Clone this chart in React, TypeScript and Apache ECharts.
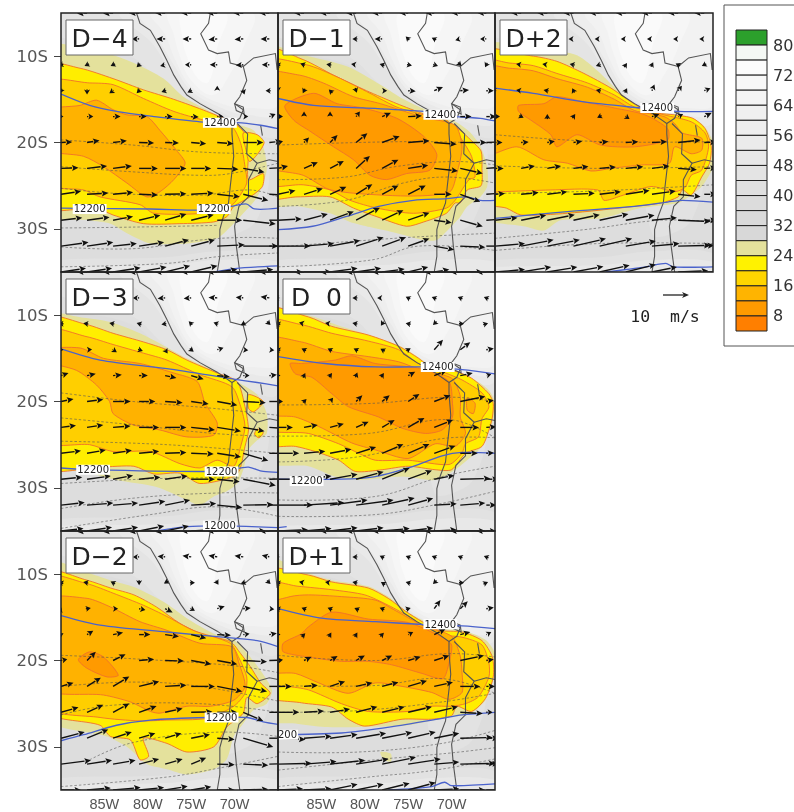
import React, { useEffect, useRef } from "react";
import * as echarts from "echarts";

// ---- axis + tick labels
const lonTicks = [-85, -80, -75, -70];
const latTicks = [-30, -20, -10];
const windLons = [-90, -87, -84, -81, -78, -75, -72, -69, -66];
const windLats = [-5, -8, -11, -14, -17, -20, -23, -26, -29, -32, -35];

// ---- colours of the plume levels
const levelColors = { k: "#e4e19c", y: "#ffee00", g: "#ffcf00", a: "#ffb200", o: "#ff9a00" };

// ---- legend
const legendColors = ["#2ca02c", "#f4f8f4", "#fcfcfc", "#f8f8f8", "#f4f4f4", "#f0f0f0", "#eeeeee", "#ebebeb", "#e8e8e8", "#e4e4e4", "#e0e0e0", "#dcdcdc", "#dadada", "#d8d8d8", "#e4e19c", "#fff200", "#ffd500", "#ffb400", "#ff9a00", "#ff7f00"];
const legendLabels = ["80", "72", "64", "56", "48", "40", "32", "24", "16", "8"];

// ---- shared background (grey shading)
const greyRings: [string, number[][]][] = [
  ["#e0e0e0", [[-90, -5], [-65, -5], [-65, -21], [-69, -19.5], [-72, -17.8], [-75, -16.5], [-78, -14.5], [-82, -11], [-90, -8.5]]],
  ["#e4e4e4", [[-90, -5], [-65, -5], [-65, -19], [-69, -18.5], [-72, -17], [-75, -15.5], [-78, -13.5], [-82, -10], [-90, -7]]],
  ["#e9e9e9", [[-83, -5], [-65, -5], [-65, -17.5], [-69, -17.5], [-71.5, -16.5], [-75, -14.5], [-77.5, -11.5], [-79.5, -8.5]]],
  ["#eeeeee", [[-80.8, -5], [-65, -5], [-65, -16.5], [-68.5, -16.8], [-71.5, -16], [-75, -14], [-77, -11], [-78.8, -8]]],
  ["#f2f2f2", [[-79.5, -5], [-65, -5], [-65, -15.5], [-68, -16], [-71.5, -15.5], [-75, -13.5], [-76.8, -10.5], [-78, -7.5]]],
  ["#f6f6f6", [[-77.5, -5], [-68, -5], [-69, -9], [-70.5, -12], [-72.5, -14.5], [-75, -12.8], [-76.3, -10], [-77, -7.5]]],
  ["#fafafa", [[-76, -5], [-71, -5], [-72, -9], [-73, -13], [-74.3, -12.5], [-75.5, -10], [-76, -8]]],
  ["#e2e2e2", [[-90, -33.8], [-78, -33.3], [-72, -32.6], [-65, -32.8], [-65, -35], [-90, -35]]],
  ["#e8e8e8", [[-90, -34.5], [-78, -34.2], [-72, -33.6], [-65, -33.8], [-65, -35], [-90, -35]]],
  ["#e2e2e2", [[-72, -20], [-66.5, -20], [-66, -24], [-67, -28], [-68.5, -30], [-72, -30.5]]],
];

const coast = [[-81.3, -5], [-80.9, -6.2], [-79.7, -7], [-78.6, -8.9], [-77.8, -10.5], [-77, -12.2], [-76.2, -13.5], [-75.5, -14.5], [-74, -15.5], [-72, -16.6], [-70.3, -17.8], [-70.3, -19], [-70.1, -21.6], [-70.5, -25.1], [-70.7, -27], [-71.3, -28.6], [-71.7, -30.1], [-71.7, -33.2], [-72, -35]];
const borderPeru = [[-72.8, -5], [-73, -6.2], [-73.9, -7.4], [-73, -9.3], [-72, -9.7], [-70.7, -9.5], [-70.5, -10.8], [-69, -11.2], [-68.6, -12.8], [-69.4, -14.7], [-70, -15.5], [-69, -16.2], [-69.4, -17.2], [-70.3, -17.8]];
const borderBolivia = [[-69, -11.2], [-67.8, -10.2], [-65.3, -9.7], [-65.1, -11.6]];
const borderChile = [[-69.7, -17.8], [-68.5, -19], [-68.6, -21.3], [-67.4, -22.4], [-68.4, -24.3], [-68.4, -26.3], [-69.5, -27.4], [-70, -29.7], [-69.8, -32], [-69.4, -35]];
const borderArgentina = [[-67.4, -22.4], [-66, -22], [-65, -22.2]];
const titicaca = [[-70, -15.5], [-69, -15.9], [-68.9, -16.7], [-69.8, -16.3], [-70, -15.5]];
const poopo = [[-67, -18], [-66.8, -19.2]];

// ---- plume contours, D-4
const ringsD4: [string, number[][]][] = [
  ["k", [[-90, -9], [-85, -9.6], [-81.6, -10.8], [-78.2, -12.6], [-75.9, -14.7], [-73.2, -16.2], [-70, -17.8], [-67.8, -18.6], [-66.7, -20.5], [-66.3, -23.2], [-67.4, -26.3], [-69, -28.2], [-70.5, -29.8], [-72, -31.1], [-75.5, -31.7], [-79.7, -31.7], [-82.4, -30.5], [-84.3, -29.4], [-86.7, -29], [-90, -28.2]]],
  ["y", [[-90, -11], [-87.8, -11.4], [-84, -12.6], [-80.5, -13.9], [-77, -15], [-73.2, -16.4], [-70, -17.8], [-68.8, -19], [-68.4, -20.9], [-68.4, -24.3], [-66.7, -23.6], [-66.8, -25.1], [-68.2, -26.3], [-70.1, -27.4], [-70.9, -28.6], [-72.4, -29.2], [-76.3, -29.4], [-80.5, -29.4], [-84, -28.4], [-85.9, -27.6], [-90, -27.4]]],
  ["y", [[-69, -18.9], [-67.4, -19.1], [-66.6, -20], [-67.4, -21.4], [-68.3, -22.2], [-68.7, -20.8]]],
  ["g", [[-90, -13], [-86.7, -13.1], [-84, -13.3], [-80.5, -14.9], [-77, -16.4], [-73.6, -17.4], [-70.3, -18.2], [-69.3, -20.1], [-68.8, -22.8], [-68.6, -24.7], [-69.5, -26.3], [-70.5, -27.4], [-73.6, -28.2], [-79.3, -28.2], [-80.9, -27.2], [-85.5, -26.3], [-87.4, -25.5], [-90, -24.7]]],
  ["a", [[-90, -16.4], [-87.8, -15.7], [-85.9, -15.1], [-84, -16.2], [-82.4, -16.8], [-80.1, -17], [-78.6, -18.6], [-76.7, -20.9], [-75.7, -22.4], [-77, -24.3], [-78.6, -25.7], [-80.1, -26.3], [-82.4, -24.7], [-85.1, -22.8], [-87.4, -21.6], [-90, -20.7]]],
];
const heightsD4 = [
  [[-90, -14.4], [-86.7, -15.7], [-83.6, -16.4], [-79.3, -17], [-74, -17.6], [-69.7, -17.7], [-67, -18], [-65, -18.4]],
  [[-90, -27.6], [-79.7, -27.7], [-72.4, -27.8], [-68.7, -27.1], [-67.7, -27.7], [-65, -27.6]],
  [[-72.4, -35], [-70, -34.6], [-65, -34.3]],
];
const dashesD4 = [
  [[-90, -19.7], [-81.7, -20.3], [-74, -21.1], [-65, -21.3]],
  [[-90, -22.8], [-81.7, -23.4], [-74, -23.8], [-70.5, -23.6], [-65, -22.4]],
  [[-90, -25.3], [-83.6, -25.9], [-74, -26.1], [-68.2, -25.5], [-65, -26.3]],
  [[-90, -29.9], [-81.7, -29.8], [-72, -29.6]],
  [[-90, -32.1], [-81.7, -32.3], [-74, -31.3], [-69, -31], [-65, -31.1]],
  [[-90, -34.4], [-77.8, -34], [-71.7, -33.2], [-65, -32.8]],
];
const labelsD4: [string, number, number][] = [["12400", -71.7, -17.7], ["12200", -86.7, -27.7], ["12200", -72.4, -27.7]];
const windD4 = [
  [-4, -0.2, -4, -0.2, -4, -0.2, -4, -0.1, -4, 0, -4, 0, -4, 0, -4, 0, -4, 0],
  [-3.5, -0.3, -3.5, -0.3, -3.5, -0.3, -3, 0, -3.5, 0, -3.5, 0, -3.5, -0.3, -3.5, -0.2, -3.5, 0],
  [-1, -0.3, -1, -0.5, -1, -0.5, -1, -1, -2, -0.5, -2.5, 0, -3, 0, -3, -0.2, -3, 0],
  [-0.5, -1, 0, -1.5, -1.5, -1, -1, -1, -1.5, -0.5, -1.5, -0.7, 0, 2, 0.5, -1.5, -1.5, 0],
  [1, 0, 2.5, 0, 3, 0, 3, 0, 3, 0, 3, -0.2, 2.5, 0, 2, 0, 2.5, 1],
  [4.5, 0.2, 5, 0.8, 5.5, 0.7, 6, -0.2, 5.5, -0.2, 6, -0.5, 6.5, -0.5, 8, 0, 5, 0.5],
  [7, 0.3, 8, 1, 7.5, 1, 7.5, 0, 8.5, 0, 8, 0, 8.5, -0.3, 8.5, -1.5, 8, 0.5],
  [8, 1.2, 8.5, 0.5, 8, 0.8, 7.5, -0.3, 8.5, 0.2, 9, 0.5, 9, -1, 10, -2.5, 9, -0.5],
  [8.5, 1, 9, 1.2, 8, 1.5, 8.5, 2, 8.5, 2.5, 9, 2.2, 10, 0, 13, -1.5, 10, 0],
  [11, 1.5, 10.5, 1.5, 9.5, 1, 10, 1.5, 9.5, 2.5, 9.5, 2.5, 11, 0.5, 14, 0, 11, 0],
  [10, 1.5, 10, 1.5, 11, 1.7, 11, 2, 10, 2.5, 10.5, 2.5, 8, 1, 12, 1, 9, 0.5],
];

// ---- D-1
const ringsD1: [string, number[][]][] = [
  ["k", [[-90, -8.8], [-87, -9.9], [-82, -11.2], [-78.2, -13.3], [-75.5, -15], [-73, -16.2], [-69.7, -17.5], [-68, -18.7], [-66.7, -20.4], [-65.9, -22.8], [-65.9, -25.1], [-66.7, -26.3], [-68.2, -27.4], [-69, -28.6], [-70.1, -29.8], [-71.7, -31.3], [-73.2, -31.3], [-76.3, -30.5], [-79.4, -29.8], [-81.7, -29.2], [-84, -28.2], [-87.5, -27.4], [-90, -27]]],
  ["y", [[-90, -9], [-87.1, -10.4], [-83.6, -12.2], [-79.8, -14], [-76.3, -15.5], [-73.2, -16.7], [-70.2, -17.8], [-69, -18.6], [-67.8, -19.7], [-66.6, -21], [-66.5, -23], [-66.6, -25], [-68.2, -25.5], [-69, -27], [-69.6, -27], [-70.6, -28.2], [-73.2, -29.2], [-75.2, -29.7], [-78.6, -28.6], [-81.3, -27.6], [-84, -26.3], [-87.8, -26.3], [-90, -26.3]]],
  ["g", [[-90, -10.6], [-86.7, -11], [-83.2, -12.4], [-79.4, -14.3], [-76.3, -15.9], [-73.2, -16.8], [-70.6, -17.4], [-69.6, -18.6], [-68.8, -19.7], [-67.7, -21.6], [-67.3, -24], [-68, -24.3], [-69.6, -26.7], [-70.6, -27.6], [-74.4, -28.2], [-78.6, -27.6], [-81.7, -26.7], [-84, -25.5], [-87.1, -24.9], [-90, -24.7]]],
  ["a", [[-90, -12], [-87.5, -12.2], [-84.8, -13.1], [-81.3, -14.7], [-78.2, -15.5], [-73.2, -17.1], [-69.6, -18], [-68.8, -20.5], [-69.4, -23.6], [-70.2, -25.7], [-74.4, -26.2], [-81, -25.9], [-84.2, -25.4], [-87.1, -23.8], [-90, -22.4]]],
  ["o", [[-88.2, -17.4], [-89.2, -15.7], [-85.9, -14.3], [-83.2, -15.5], [-80.2, -16], [-76.3, -17.2], [-73.2, -19.3], [-71.7, -21.4], [-72.5, -23.2], [-75.2, -23.6], [-77.5, -24.3], [-79.4, -23.8], [-81.3, -22], [-83.6, -20.5], [-86.3, -18.7]]],
];
const heightsD1 = [
  [[-90, -14.9], [-85.9, -15.7], [-80.2, -16], [-73.2, -16.4], [-69.4, -17], [-66.7, -17.2], [-65, -17.5]],
  [[-90, -30.1], [-86, -29.7], [-82.2, -28.6], [-78.4, -27.4], [-74.4, -26.7], [-70.6, -26.5], [-68.3, -26.3], [-66.7, -26.7], [-65, -26.7]],
];
const dashesD1 = [
  [[-90, -20.3], [-75.2, -19.9], [-65, -20.1]],
  [[-90, -24.3], [-82.2, -24], [-76.5, -22.8], [-69.6, -22.2], [-65, -22.6]],
  [[-90, -27.4], [-82.2, -26.7], [-75.6, -24.7], [-70.6, -24], [-65, -24.7]],
  [[-90, -32.1], [-82.2, -31.5], [-73.4, -30.9], [-65, -30.5]],
  [[-90, -34.4], [-79.2, -33.6], [-73.8, -32], [-65, -32.5]],
];
const labelsD1: [string, number, number][] = [["12400", -71.3, -16.8]];
const windD1 = [
  [-4, 0, -4, 0, -4, 0, -4, 0, -4, 0, -3.5, 0, -3.5, 0, -3.5, 0, -3.5, 0],
  [-3, 0, -3, 0, -3, 0, -1.5, 0, -3, 0, -1, 1, -1, 0.5, -2, -0.5, -2.5, 0],
  [-1, 0.3, -1.5, 0.5, -1.5, 0.2, -2, 0.3, -1, 0.3, 1.5, -0.3, 1.5, -0.5, 0.5, -0.5, -0.5, -1],
  [0, -0.5, -0.5, -1, -0.5, 0.5, 0.3, -0.8, 2, 0, 3, -0.2, 3.5, 1.5, 3.5, 0.3, 3, 0],
  [2, 0, 0, 2, 0, 2, 1.5, 2, 3.5, 1.5, 5.5, 0.3, 4.5, 0, 4.5, 0, 4, 0],
  [2, 0.5, 2, 2, 3, 3, 4.5, 3.7, 7, 2.5, 8.5, 0.7, 9, -0.7, 10.5, 0, 7, 0.3],
  [4, 1, 5.5, 2.5, 5.5, 3, 5.5, 5, 6.5, 3.5, 8, 1.3, 9.5, -1, 9, -2, 6, 0.5],
  [7, 1.5, 7.5, 2.3, 6.5, 3, 6.5, 4, 6.5, 3.5, 7, 3.5, 7, 0, 8, -3, 6, 0.5],
  [9.5, 0.5, 9.5, 2.5, 9.5, 3.5, 9.5, 5, 8.5, 4, 8.5, 3, 7, -1, 9, -2.5, 8, 0.5],
  [13, 0, 12, 1, 12, 2.2, 11, 3.5, 9.5, 3.5, 8.5, 3, 8, -1.5, 10, -0.5, 10, 0],
  [10, 0, 11, 0, 11, 1.5, 10, 1.5, 9, 1.2, 8, 2, 6, 1, 9, 0, 7, 0],
];

// ---- D+2
const ringsD2p: [string, number[][]][] = [
  ["k", [[-90, -8.9], [-84, -9.3], [-80.6, -9.9], [-77.9, -12], [-76, -13.9], [-73.3, -16], [-69.4, -16.8], [-66.3, -17.8], [-65, -20], [-65, -22.8], [-66.3, -25.1], [-67.8, -26.3], [-69, -27], [-73.3, -27.6], [-77.9, -28.8], [-82.5, -29], [-84.4, -30.2], [-86.3, -29.8], [-90, -28.2]]],
  ["y", [[-90, -9.5], [-85.6, -10], [-82.9, -10.6], [-79.8, -12], [-76.7, -13.7], [-73.6, -15.8], [-71.3, -16.6], [-69.4, -16.8], [-67.3, -17.2], [-65.9, -18.4], [-65.2, -20.5], [-65.4, -22.4], [-66.3, -24], [-67.5, -26.1], [-68.5, -25.5], [-69, -26.3], [-70.9, -27], [-74, -27.4], [-81.7, -28.2], [-87, -28.4], [-88.7, -27.6], [-90, -26.7]]],
  ["g", [[-90, -10.5], [-88.3, -10.8], [-85.6, -11.1], [-82.9, -12], [-79.4, -13.1], [-76.3, -14.5], [-74, -15.9], [-70.6, -16.8], [-67.5, -17.6], [-65.9, -18.9], [-65.5, -20.5], [-66.3, -23.2], [-67.5, -23.8], [-68.2, -25.2], [-69.4, -25.7], [-72.1, -25.1], [-75.6, -26.2], [-77.5, -26.7], [-78.2, -25.5], [-83.6, -25.5], [-89.4, -25.7], [-90, -25.7]]],
  ["a", [[-90, -11.2], [-88.3, -11.4], [-85.6, -11.7], [-82.9, -12.6], [-79.4, -13.6], [-76.3, -15], [-74, -16.3], [-70.6, -17], [-69.4, -17.8], [-68.5, -18.9], [-66.3, -19.5], [-66.3, -20.9], [-67.5, -21.3], [-69.4, -20.5], [-70, -22.4], [-73.2, -22.6], [-76.7, -23], [-79, -23.3], [-81.7, -22.4], [-84.4, -22], [-87.5, -20.5], [-90, -21.6]]],
  ["o", [[-87.3, -15.7], [-84.4, -15.5], [-82.9, -14.7], [-79.8, -15.3], [-76.3, -16], [-72.8, -16.8], [-70.2, -18.4], [-70.2, -19.7], [-74, -20.5], [-77.9, -20.3], [-80.6, -19.1], [-82.9, -20.5], [-83.6, -19.1], [-85.9, -17.4], [-87.3, -16.4]]],
];
const heightsD2p = [
  [[-90, -13.7], [-85.6, -14.3], [-79.8, -15.3], [-73.3, -16], [-69, -16.4], [-65, -16.4]],
  [[-90, -28.8], [-81.7, -28], [-74, -27.4], [-70.2, -26.9], [-68.5, -26.7], [-65, -26.9]],
  [[-77.3, -35], [-72.7, -34.4], [-70.4, -34], [-69.6, -34.4], [-65, -34.4]],
];
const dashesD2p = [
  [[-90, -19.1], [-77.9, -19.9], [-65, -19.9]],
  [[-90, -22.7], [-77.9, -23], [-65, -22.8]],
  [[-90, -25.9], [-77.9, -25.6], [-65, -24.9]],
  [[-90, -31.1], [-79.8, -30.1], [-70.9, -29], [-65, -29.2]],
  [[-90, -32.5], [-77.9, -31.7], [-65, -31.7]],
];
const labelsD2p: [string, number, number][] = [["12400", -71.4, -16]];
const windD2p = [
  [-4, 0, -4, 0, -4, 0, -4, 0, -4, 0, -4, 0, -4, 0, -4, 0, -4, 0],
  [-2, 0, -2, 0, -2, 0, -2, 0, -2, 0, -2, 0, -2, 0, -2, 0, -2, 0],
  [-2, 0.3, -2, 0.3, -2, 0.3, -1.5, 0.3, -1.5, -0.5, 0.5, 0.7, 0.5, 1, -1, 0.5, -1, -0.5],
  [-1.5, 0.3, -2, 0.3, -1.5, 0.3, -0.5, 1, -1.5, 0.3, 0.5, 1, 1, 2.5, 1.5, 2, 2.5, 1],
  [2, 0, 1, -0.5, 0, 1, 0.7, 1, -1, -0.5, 1.5, -1, 3, 1, 2, 1, 3, 1.5],
  [3, 0, 3, 0.2, 3, 0.5, 3.5, 0.5, 3.5, 0.4, 5, 0.3, 6, 0.3, 9, 1, 5, 0.2],
  [3.5, 0, 5.5, 1, 5.5, 1, 6, 0.8, 6.5, 0.6, 7, 0.7, 7, 1, 7.5, -0.5, 5, 0.2],
  [4, 0.3, 7, 0.7, 8, 1, 8.5, 0.4, 8.5, 1, 9.5, 1.5, 9.5, 1.3, 9, -1, 5, 0],
  [9, 1, 10, 2, 11, 2.2, 10.5, 2.2, 11.5, 2.5, 11.5, 2, 10, 1, 13, -0.5, 5, 0],
  [12, 1, 13, 2.5, 13, 2.5, 13, 3, 13, 3, 12, 2, 11, 1, 13, 0.3, 4, 0.3],
  [12, 1, 12, 2, 12, 2, 12, 2.2, 12, 2.7, 12, 3, 10, 2, 12, 0.5, 6, 0],
];

// ---- D-3
const ringsD3: [string, number[][]][] = [
  ["k", [[-90, -10], [-87.4, -10.3], [-84.3, -10.8], [-80.9, -12.1], [-78.2, -13.5], [-75.5, -15], [-72.4, -16.4], [-69.7, -17.7], [-67.4, -19.2], [-66.3, -21.4], [-66.3, -23.7], [-67.4, -24.5], [-68.4, -25.6], [-69, -27.9], [-69.7, -29.5], [-70.9, -30.4], [-72.4, -31], [-74, -32], [-75.5, -31.4], [-79, -29.9], [-83.6, -29.1], [-87.4, -28.1], [-90, -27.5]]],
  ["y", [[-90, -10.3], [-87, -11.1], [-84, -12.1], [-80.5, -13.1], [-77.8, -14], [-75.5, -15.2], [-72, -16.7], [-69.7, -17.7], [-68.8, -20.6], [-68.4, -23.3], [-68.8, -25.2], [-69.4, -27.9], [-70.1, -28.7], [-74, -29.5], [-76.3, -28.3], [-79.3, -28.4], [-81.6, -27.5], [-85.5, -27.6], [-90, -27.6]]],
  ["y", [[-68.4, -19.2], [-66.7, -20], [-67.8, -21.2], [-68.4, -20.8]]],
  ["y", [[-67.4, -23.2], [-66.7, -23.6], [-67.2, -24.2], [-67.7, -23.8]]],
  ["g", [[-90, -11.7], [-87, -12.5], [-84, -13.4], [-80.5, -14.4], [-77.8, -15.2], [-74, -16.9], [-70.3, -18.3], [-69.3, -20.6], [-68.8, -22.9], [-69.3, -25.2], [-70.1, -27.5], [-72, -26.8], [-74, -27.7], [-76.3, -27.2], [-79.7, -25.8], [-84, -25.8], [-86.7, -25], [-90, -24.6]]],
  ["a", [[-90, -14], [-87.8, -13.8], [-85.1, -15], [-80.9, -15.6], [-77, -16.7], [-74.3, -17.7], [-73.4, -20.2], [-72, -22.5], [-72.4, -23.9], [-75.5, -24.1], [-78.6, -23.3], [-81.7, -22.7], [-84, -21.4], [-84.4, -20], [-85.9, -18.1], [-88.2, -16.4], [-90, -15.2]]],
];
const heightsD3 = [
  [[-90, -13.9], [-85.5, -15.2], [-77.8, -16.2], [-70.1, -17.4], [-67.4, -17.8], [-65, -18.2]],
  [[-90, -27.7], [-86.3, -27.9], [-71.5, -28.1], [-69.3, -27.7], [-68.4, -27.6], [-66.7, -28.1], [-65, -28.2]],
  [[-79, -35], [-75.5, -34.5], [-71.7, -34.4], [-65, -34.6]],
];
const dashesD3 = [
  [[-90, -19], [-81.7, -20], [-72.4, -20.8], [-65, -21.6]],
  [[-90, -21.9], [-81.7, -22.7], [-72.4, -23.7], [-65, -24.1]],
  [[-90, -24.6], [-77.8, -25], [-65, -26]],
  [[-90, -29.5], [-77.8, -28.9], [-65, -28.9]],
  [[-90, -32.4], [-81.7, -31.2], [-72, -30.6], [-65, -30.6]],
  [[-90, -34.7], [-79.7, -33.1], [-72, -32.2], [-65, -33.3]],
];
const labelsD3: [string, number, number][] = [["12200", -86.3, -27.9], ["12200", -71.5, -28.1], ["12000", -71.7, -34.4]];
const windD3 = [
  [-4, 0, -4, 0, -4, 0, -4, 0, -4, 0, -4, 0, -4, 0, -4, 0, -4, 0],
  [-2.5, 0, -2.5, 0, -2.5, 0, -2.5, 0, -3, -0.2, -3, -0.2, -3.5, 0.2, -3, 0.3, -3.5, 0.5],
  [-1, 0, -1.5, 0.2, -1.5, 0.3, -1, 0.3, -1.5, -0.3, -1, 1, -1.5, 0.5, -1, -0.5, 0.5, -0.5],
  [1, 0, 2, 0.1, 1.5, -1, 1.5, -0.5, 1, -1.5, 1, -0.8, 2.5, 0.8, 2, -0.2, 2, -0.2],
  [3, 1, 3.5, 0.7, 3.5, 0.3, 3.5, 0, 4.5, -1, 5, -1.5, 5, -0.5, 2.5, 0, 3, 0.3],
  [5, 1, 6.5, 0.8, 7, 0, 6.5, 0, 7, -0.5, 7, -1, 8, -1.5, 9, -0.5, 6, 0],
  [6, 0.8, 6.5, 1, 7, 0.6, 8, 0, 8.5, 0, 9.5, -1, 9.5, -1.5, 8.5, -1.5, 8, -0.5],
  [8, 1, 7.5, 1.3, 7.5, 1.2, 8, 0.8, 8.5, 0.3, 9, -0.3, 9.5, -1.5, 10, -3, 8, 0],
  [8.5, 0.8, 9.5, 1.3, 8, 1.5, 8.5, 0.8, 9, 1.3, 9.5, 0, 9, -1, 13, -2.5, 8, 0.2],
  [9.5, 1, 10.5, 0.8, 10, 0.8, 10.5, 1.5, 10, 2, 10, 0.6, 10, -1, 12, 0.2, 9, 0],
  [9, 1, 10, 1.5, 10, 1.5, 10, 2, 9.5, 2, 8, 0.5, 7, 0.5, 9, 0, 8, 0],
];

// ---- D 0
const ringsD0: [string, number[][]][] = [
  ["k", [[-90, -9.2], [-86.5, -10], [-82.7, -11.3], [-78.8, -12.5], [-75.7, -13.7], [-73.4, -15.2], [-71.9, -16.4], [-69.6, -16.5], [-67.3, -17.5], [-65.7, -18.7], [-65, -20.2], [-65.2, -22.1], [-66.5, -25.2], [-68, -26.6], [-69.6, -27.9], [-71.9, -29.1], [-75.7, -28.7], [-80.7, -29.1], [-83.4, -28.7], [-86.5, -27.5], [-90, -26.8]]],
  ["y", [[-90, -9.2], [-86.5, -10.2], [-83.8, -11.3], [-79.6, -12.3], [-76.1, -13.6], [-73.8, -15], [-71.9, -16.4], [-69.6, -16.5], [-67.7, -17.3], [-65.7, -19.1], [-65.2, -20.2], [-65.3, -21.8], [-65.7, -23.3], [-66.5, -25.2], [-68.4, -26], [-70, -27.9], [-71.9, -27.9], [-75, -27.5], [-78, -27.9], [-81.1, -28.1], [-83, -26.8], [-85.7, -25.8], [-88, -25.2], [-90, -24.8]]],
  ["g", [[-90, -10.6], [-87.3, -11.1], [-83.8, -12.1], [-79.6, -13], [-76.1, -14], [-73.8, -15.6], [-70.7, -16.7], [-68.8, -17.5], [-66.5, -19], [-65.7, -20.6], [-66.5, -22], [-66.9, -24.1], [-68.4, -24.9], [-68.8, -26], [-70.3, -27.3], [-75, -26.8], [-78.8, -26.8], [-80.7, -26], [-83, -24.9], [-86.5, -23.7], [-90, -22.9]]],
  ["a", [[-90, -12.7], [-87.3, -13.1], [-83.8, -14.2], [-79.6, -14.8], [-76.1, -15.4], [-73.4, -16.4], [-70, -17.3], [-69, -19.4], [-69, -21.8], [-68.4, -23.7], [-69.6, -25.2], [-71.9, -24.9], [-75, -26.6], [-78.8, -25.6], [-81.5, -24.8], [-85.3, -22.9], [-88, -21.8], [-90, -21.2]]],
  ["a", [[-68.2, -19.6], [-67.3, -20.2], [-67.5, -21.4], [-68.2, -21]]],
  ["o", [[-88.6, -15.6], [-87.3, -15.6], [-83.4, -15.2], [-81.5, -14.7], [-78.8, -15.6], [-73.4, -16.2], [-70.3, -17.7], [-69.9, -20.2], [-69.9, -21.8], [-71.1, -23.3], [-73, -23.7], [-75.7, -23.1], [-78.4, -21.8], [-81.9, -20.6], [-83.8, -19.1], [-86.1, -17.2], [-88, -16.8]]],
];
const heightsD0 = [
  [[-90, -14.8], [-84.6, -15.6], [-78.8, -16], [-73.4, -16], [-68.8, -16.3], [-65, -16.8]],
  [[-90, -29], [-82.7, -29], [-78.8, -28.7], [-75, -27.7], [-71.1, -26.3], [-68.8, -25.9], [-65, -26]],
  [[-90, -34.6], [-89, -34.5]],
];
const dashesD0 = [
  [[-90, -20.4], [-78.8, -20.2], [-70.3, -19.5], [-65, -20]],
  [[-90, -24], [-79.6, -23.7], [-70.3, -22.1], [-65, -24.2]],
  [[-90, -27], [-80.7, -26.4], [-71.1, -24.3], [-65, -24.2]],
  [[-90, -31.4], [-78.8, -31], [-71.1, -28.7], [-65, -27.5]],
  [[-90, -33.3], [-78.8, -33.1], [-71.1, -31.8], [-65, -30.4]],
];
const labelsD0: [string, number, number][] = [["12400", -71.6, -16], ["12200", -86.7, -29.2]];
const windD0 = [
  [-4, 0, -4, 0, -4, 0, -4, 0, -4, 0, -4, 0, -4, 0, -4, 0, -4, 0],
  [-1.5, 0, -1.5, 0, -1.5, 0, -1.5, 0, -2, 0, -1, 0.5, -1, 0.4, -1, 0.4, -1, 0.4],
  [-1, 0.3, -2, 0.5, -2, 0.3, -1.5, 0.3, -0.5, -0.8, -1, 0.2, -0.5, -0.5, 1.5, 0, 0.7, 0.2],
  [-1, 0.3, -1, 0.5, -1, 0.5, -1, 0.5, -0.7, 0.4, 1, 0.6, 3.5, 4, 4, 3, 3, 0.5],
  [1, 0, 0.5, 1, 0.8, 1, 0.5, 1.2, 0.7, 1, 2.8, 1.5, 5, 2, 5, 1, 2, 0.5],
  [2, 0, 1, 1, 1.2, 1.5, 2.5, 2.5, 3, 2.5, 4.5, 3, 6.5, 2.5, 10, 2, 3, 0.5],
  [6, 0, 5.5, 1, 5.5, 1.5, 5, 2.3, 5, 3, 6.5, 3.8, 7.5, 3, 7.5, 0, 4, 0.3],
  [8.5, 0, 8.5, 0.8, 8.5, 1.6, 8, 2.5, 8.5, 3.6, 8.5, 3.7, 8.5, 3, 7, 0, 3, 0.2],
  [10, 0, 11, 1.3, 11, 2, 11, 3, 11, 4.5, 9.5, 3.5, 8, 1.5, 12, 0.3, 5, 0],
  [14, 0, 16, 1, 15, 2, 15, 2, 13, 2.8, 10, 2.7, 9, 0.5, 10, 0.8, 4, 0],
  [12, 0.5, 11, 1, 11, 1.3, 11, 1.3, 11, 1, 10, 1.2, 9, 0.5, 10, 0, 4, 0],
];

// ---- D-2
const ringsD2: [string, number[][]][] = [
  ["k", [[-90, -8.5], [-87, -9.8], [-84.3, -10.7], [-81.6, -11.5], [-78.2, -13.2], [-75.5, -15.1], [-72.4, -16.9], [-70.1, -17.6], [-67.8, -20.1], [-65.7, -23.4], [-66.3, -25], [-67.8, -25.7], [-69, -27.3], [-70.1, -28.8], [-70.9, -31.4], [-72.4, -32.6], [-75.5, -33.2], [-77.8, -32.6], [-80.1, -32], [-82.4, -30], [-84.7, -28.8], [-90, -26.5]]],
  ["y", [[-90, -9.7], [-87, -10.7], [-84.3, -11.6], [-81.6, -12.4], [-79, -13.8], [-76.3, -15.7], [-73.6, -17], [-70.5, -17.8], [-69.3, -19.2], [-68.2, -20.7], [-67, -22.6], [-65.9, -23.8], [-67.4, -25], [-68.6, -24.3], [-69, -26.1], [-70.9, -27.7], [-72.4, -30], [-75.5, -30.6], [-77.8, -29.6], [-80.5, -29], [-79.9, -31.1], [-80.9, -31.5], [-82, -29.2], [-84.3, -28.8], [-85.5, -27.5], [-90, -25.7]]],
  ["g", [[-90, -10.3], [-87, -11.1], [-84, -12.2], [-80.5, -13.6], [-77.8, -14.9], [-74.8, -16.5], [-70.5, -18], [-69.5, -19.7], [-68.6, -21.9], [-68.8, -23.8], [-70.1, -25.3], [-73.2, -26.7], [-77.8, -26.9], [-80.9, -27], [-85.5, -26.6], [-90, -25.2]]],
  ["a", [[-90, -13], [-87, -12.8], [-84.3, -13.8], [-80.9, -15.5], [-77.8, -16.5], [-74, -18], [-70.3, -18.4], [-69.5, -20.3], [-68.8, -23], [-70.1, -24.6], [-72.8, -25.3], [-75.5, -25.3], [-78.6, -26.1], [-79.7, -25.9], [-82, -24.8], [-85.1, -24], [-90, -23.2]]],
  ["o", [[-88, -19.9], [-86.7, -19], [-85.1, -19.6], [-83.4, -21.7], [-84.7, -21.9], [-87, -20.9]]],
];
const heightsD2 = [
  [[-90, -14.8], [-85.5, -15.9], [-77.8, -16.7], [-70.1, -17.4], [-67.4, -17.7], [-65, -18.4]],
  [[-90, -29.3], [-87.4, -28.6], [-83.6, -27.5], [-79.7, -26.9], [-73.2, -26.6], [-68.6, -26.6], [-66.7, -27.1], [-65, -27.4]],
];
const dashesD2 = [
  [[-90, -19.4], [-81.7, -19.8], [-70.1, -20.6], [-65, -21.4]],
  [[-90, -23], [-81.7, -22.5], [-74, -23], [-65, -24.7]],
  [[-90, -26.3], [-84.3, -25.2], [-74, -25], [-65, -26]],
  [[-86.7, -31.5], [-81.7, -29.5], [-72, -28.3], [-65, -28.8]],
  [[-90, -34.6], [-77.8, -33.5], [-72, -32.5], [-65, -31.1]],
];
const labelsD2: [string, number, number][] = [["12200", -71.5, -26.6]];
const windD2 = [
  [-4, -0.3, -4, -0.3, -4, -0.3, -4, -0.3, -4, -0.3, -4, 0, -4, 0, -4, 0, -4, 0],
  [-2.5, 0, -2.5, 0, -2.5, 0, -2.5, 0, -3, 0.3, -3.5, 0.5, -3.5, 0.6, -3.5, 0.5, -3, 0.7],
  [-1, 0.3, -1.5, 0.3, -1, 0.5, 0, -1, -0.5, -0.3, 1.5, 0, 0.5, -0.8, -1, -0.3, 0.5, -0.5],
  [0.2, 0.5, 1.5, 0.3, 2, 0, 2.5, -0.5, 3, -1.5, 1.5, -0.8, 3, 1, 3, 0.3, 2, -0.2],
  [1, 0.5, 2.5, 1.5, 4, 0.8, 4.5, 0, 5.5, -0.8, 6, -1.5, 5.5, -0.3, 2.5, 0.3, 3, 0.5],
  [2.5, 0.5, 3.5, 3.5, 5, 2.5, 6, 0.5, 7.5, -0.2, 8, -1.5, 8, -1.5, 9.5, -0.5, 6, 0.2],
  [5, 1.5, 5.5, 3.5, 6.5, 4, 8, 2, 8.5, 0.5, 9.5, 0, 10, -2, 9.5, -2, 8, 0],
  [7, 2, 6.5, 3, 6.5, 3.5, 7, 2.5, 7, 1.5, 8.5, 0.2, 8, 0, 8, -3.5, 7, 0],
  [9.5, 2.5, 8.5, 3.5, 7.5, 2.5, 6.5, 2, 6.5, 2, 7.5, 1.5, 7, -0.5, 12, -3.5, 8, 0],
  [12, 1.5, 10, 1.5, 9, 1.5, 8, 2, 7, 2, 6, 2.5, 7, -0.3, 10, -0.5, 9, 0.2],
  [8, 0, 9.5, 0.8, 11, 1, 10, 1, 9, 1.5, 8, 1.3, 7, 0, 10, 0.3, 8, 0],
];

// ---- D+1
const ringsD1p: [string, number[][]][] = [
  ["k", [[-90, -8], [-86.5, -9.9], [-83.8, -10.7], [-79.6, -11.4], [-77.3, -12.6], [-75.3, -14.2], [-73.4, -15.3], [-71.5, -16.3], [-68.8, -16.5], [-66.1, -17.6], [-65, -19.2], [-65, -21.5], [-66.1, -24.6], [-67.7, -26.1], [-69.6, -26.5], [-71.9, -26.9], [-75, -27.5], [-80.3, -27.7], [-84.6, -27.7], [-88, -27.3], [-90, -26.7]]],
  ["k", [[-78.2, -30.6], [-77, -30.8], [-77, -31.7], [-77.8, -31.5]]],
  ["y", [[-90, -9.5], [-86.5, -10.1], [-83.8, -10.9], [-79.6, -11.6], [-77.3, -12.8], [-75.3, -14.3], [-73.4, -15.5], [-71.5, -16.5], [-68.8, -16.7], [-66.5, -17.7], [-65.3, -19.6], [-65.2, -21.9], [-66.1, -24.4], [-67.7, -25.9], [-69.4, -25.3], [-70, -26.4], [-72.3, -26.8], [-75.7, -26.8], [-80, -27.6], [-81.9, -26.8], [-83.8, -25.4], [-87.3, -24.9], [-90, -23.8]]],
  ["g", [[-90, -11], [-87.7, -11.4], [-83.8, -11.8], [-80, -12.4], [-77.3, -13.6], [-74.6, -15.1], [-71.9, -16.9], [-68.8, -17.3], [-66.5, -18.2], [-65.7, -20.3], [-65.7, -21.9], [-66.9, -24.2], [-68.4, -25], [-70, -25.3], [-72.3, -25.3], [-75, -25.9], [-79.6, -25.9], [-82.7, -25], [-86.5, -23.4], [-89, -23], [-90, -22.9]]],
  ["a", [[-90, -14], [-88.6, -12.6], [-86.5, -12.4], [-82.7, -12.6], [-78.8, -13], [-76.5, -14.2], [-73.4, -15.9], [-70, -17.2], [-69, -19.5], [-68.8, -21.4], [-68.8, -23.7], [-70.3, -24.5], [-72.3, -23.7], [-75.7, -23], [-78.8, -22.6], [-81.9, -23.8], [-85.3, -22.6], [-88, -21.5], [-90, -21.1]]],
  ["o", [[-89.4, -18], [-87.3, -16.9], [-86.5, -16.1], [-83.8, -14.4], [-79.6, -15.2], [-75, -15.6], [-71.1, -17.3], [-70, -18.2], [-70.3, -20.3], [-71, -22.1], [-73.4, -21.5], [-76.9, -20.5], [-79.6, -20.1], [-82.7, -20.1], [-86.5, -19.6], [-89.4, -19]]],
];
const heightsD1p = [
  [[-90, -14], [-85, -15.1], [-78.8, -15.5], [-73.8, -15.8], [-68.8, -16], [-65, -16.3]],
  [[-90, -28.6], [-82.7, -28.4], [-77, -27.7], [-71.1, -26.7], [-68.8, -26.3], [-65, -26]],
  [[-77.3, -35], [-72.3, -34.6], [-70.8, -34.1], [-70, -34.5], [-65, -34.3]],
];
const dashesD1p = [
  [[-90, -19.4], [-78.8, -20], [-70.3, -19.2], [-65, -19.6]],
  [[-90, -22.9], [-78.8, -22.9], [-71.1, -22.1], [-65, -23.8]],
  [[-90, -26], [-80.7, -25.8], [-71.1, -24.8], [-65, -23.8]],
  [[-90, -30.6], [-80.7, -30.6], [-71.1, -29.6], [-65, -28.1]],
  [[-90, -32.7], [-78.8, -31.5], [-70, -30.7], [-65, -30.1]],
  [[-90, -34.6], [-79.6, -33.5], [-71.9, -32.7], [-65, -31.4]],
];
const labelsD1p: [string, number, number][] = [["12400", -71.3, -15.8], ["200", -88.9, -28.6]];
const windD1p = [
  [-4, 0, -4, 0, -4, 0, -4, 0, -4, 0, -4, 0, -4, 0, -4, 0, -4, 0],
  [-1.5, 0, -1.5, 0, -1.5, 0, -1.5, 0, -1, 0.5, -1, 0.4, -1, 0.4, -1, 0.4, -1, 0.4],
  [-1, 0.3, -2, 0.4, -2, 0.3, -1.5, 0.3, -0.5, 0.3, -1, 0.3, -0.5, -0.5, 1.5, 0, 0.7, 0.3],
  [-1, 0.3, -1, 0.4, -1, 0.4, -0.7, 0.3, -1, 0.4, 1, 0.3, 2.5, 3.5, 3, 3, 3, 0.5],
  [1, 0, 0.5, 0.5, 0.5, 0.8, 0.5, 0.8, 0.7, 0.7, 2, 1, 4.5, 2.2, 4, 1, 2, 1],
  [2, 0.3, 3, 1.5, 3, 1.8, 3.5, 2, 4, 2, 5, 1.5, 6, 2, 9.5, 2, 3, 0.5],
  [5.5, 0, 5.5, 0.5, 6, 2, 6.5, 1.5, 6.5, 1.7, 7.5, 2.3, 7.5, 1.7, 8, 0, 3.5, 0],
  [8.5, 0, 8, 0.5, 8, 1.3, 8.5, 2.2, 9, 2.2, 9.5, 2.2, 9.5, 2.3, 9, -0.5, 2.5, 0],
  [11, -0.5, 11, 0.8, 11, 1.5, 12, 2, 12, 2.3, 11, 2.5, 10, 2, 13, 0.3, 5, 0],
  [13.5, 0.3, 13, 1, 14, 1.5, 13, 2, 13.5, 2.7, 13, 2, 10, 0.8, 14, 0.3, 5, 0.2],
  [10, 0.5, 11, 0.5, 11, 2.3, 11, 2.3, 11, 2.7, 11, 3, 10, 0.5, 10, 0, 6, 0],
];

const colLefts = [61, 278, 495];
const rowTops = [13, 272, 531];
const colWidths = [217, 217, 218];
const rowHeight = 259;

const panels = [
  { name: "D−4", col: 0, row: 0, rings: ringsD4, heights: heightsD4, dashes: dashesD4, labels: labelsD4, wind: windD4 },
  { name: "D−1", col: 1, row: 0, rings: ringsD1, heights: heightsD1, dashes: dashesD1, labels: labelsD1, wind: windD1 },
  { name: "D+2", col: 2, row: 0, rings: ringsD2p, heights: heightsD2p, dashes: dashesD2p, labels: labelsD2p, wind: windD2p },
  { name: "D−3", col: 0, row: 1, rings: ringsD3, heights: heightsD3, dashes: dashesD3, labels: labelsD3, wind: windD3 },
  { name: "D  0", col: 1, row: 1, rings: ringsD0, heights: heightsD0, dashes: dashesD0, labels: labelsD0, wind: windD0 },
  { name: "D−2", col: 0, row: 2, rings: ringsD2, heights: heightsD2, dashes: dashesD2, labels: labelsD2, wind: windD2 },
  { name: "D+1", col: 1, row: 2, rings: ringsD1p, heights: heightsD1p, dashes: dashesD1p, labels: labelsD1p, wind: windD1p },
];

const PX_PER_MS = 2.5;

function buildOption() {
  const grid: any[] = [], xAxis: any[] = [], yAxis: any[] = [], series: any[] = [], graphic: any[] = [];
  panels.forEach((p, i) => {
    const left = colLefts[p.col], top = rowTops[p.row], width = colWidths[p.col];
    grid.push({ left, top, width, height: rowHeight, show: true, backgroundColor: "#dddddd", borderWidth: 0 });
    xAxis.push({
      type: "value", gridIndex: i, min: -90, max: -65, position: "bottom",
      splitLine: { show: false }, axisLine: { show: false }, axisTick: { show: false },
      axisLabel: p.row === 2 ? {
        show: true, customValues: lonTicks, margin: 6, color: "#555", fontSize: 14.5, fontFamily: "Liberation Sans",
        formatter: (v: number) => Math.abs(v) + "W",
      } : { show: false },
    });
    yAxis.push({
      type: "value", gridIndex: i, min: -35, max: -5, position: "left",
      splitLine: { show: false }, axisLine: { show: false },
      axisTick: p.col === 0 ? { show: true, customValues: latTicks, length: 7, lineStyle: { color: "#444", width: 1 } } : { show: false },
      axisLabel: p.col === 0 ? {
        show: true, customValues: latTicks, margin: 13, color: "#555", fontSize: 16.5, fontFamily: "DejaVu Sans",
        formatter: (v: number) => Math.abs(v) + "S",
      } : { show: false },
    });

    // layered marks, in drawing order
    const items: any[] = [];
    greyRings.forEach(([fill, ring]) => items.push({ kind: "poly", ring, fill, smooth: 0.4 }));
    p.rings.forEach(([lev, ring]) => items.push({
      kind: "poly", ring, fill: (levelColors as any)[lev], smooth: 0.25,
      stroke: lev === "k" ? undefined : "#f0702a",
    }));
    [coast, borderPeru, borderBolivia, borderChile, borderArgentina, titicaca, poopo].forEach((ln) =>
      items.push({ kind: "line", pts: ln, stroke: "#555", width: 1.1 }));
    p.dashes.forEach((ln) => items.push({ kind: "line", pts: ln, stroke: "#555", width: 0.6, dash: [2.5, 2], smooth: 0.4 }));
    p.heights.forEach((ln) => items.push({ kind: "line", pts: ln, stroke: "#4a62cc", width: 1.3, smooth: 0.3 }));

    series.push({
      type: "custom", coordinateSystem: "cartesian2d", xAxisIndex: i, yAxisIndex: i, clip: true, silent: true, z: 2,
      data: items.map((_, k) => [k]),
      renderItem: (params: any, api: any) => {
        const it = items[params.dataIndex];
        if (it.kind === "poly") {
          // rings that run off the map are closed outside the frame, so the curve does not bow inside it
          const pts = it.ring.map((c: number[]) => api.coord(c));
          const frameLeft = api.coord([-90, -20])[0];
          pts.forEach((q: number[]) => { if (Math.abs(q[0] - frameLeft) < 0.01) q[0] -= 18; });
          return {
            type: "polygon",
            shape: { points: pts, smooth: it.smooth },
            style: { fill: it.fill, stroke: it.stroke || "none", lineWidth: it.stroke ? 0.9 : 0 },
          };
        }
        return {
          type: "polyline",
          shape: { points: it.pts.map((c: number[]) => api.coord(c)), smooth: it.smooth || 0 },
          style: { fill: "none", stroke: it.stroke, lineWidth: it.width, lineDash: it.dash },
        };
      },
    });

    // wind vectors
    const windData: number[][] = [];
    windLats.forEach((lat, r) => windLons.forEach((lon, c) => {
      windData.push([lon, lat, p.wind[r][c * 2], p.wind[r][c * 2 + 1]]);
    }));
    series.push({
      type: "custom", coordinateSystem: "cartesian2d", xAxisIndex: i, yAxisIndex: i, clip: true, silent: true, z: 3,
      data: windData,
      renderItem: (_: any, api: any) => {
        const t = api.coord([api.value(0), api.value(1)]);
        const dx = api.value(2) * PX_PER_MS, dy = -api.value(3) * PX_PER_MS;
        const len = Math.hypot(dx, dy) || 1;
        const ux = dx / len, uy = dy / len;
        const tip = [t[0] + dx, t[1] + dy];
        const hl = Math.min(6.5, Math.max(5, len * 0.8)), hw = 3;
        const base = [tip[0] - ux * hl, tip[1] - uy * hl];
        return {
          type: "group",
          children: [
            { type: "line", shape: { x1: t[0], y1: t[1], x2: base[0], y2: base[1] }, style: { stroke: "#111", lineWidth: 1.4 } },
            {
              type: "polygon",
              shape: { points: [tip, [base[0] - uy * hw, base[1] + ux * hw], [base[0] + ux * 1.2, base[1] + uy * 1.2], [base[0] + uy * hw, base[1] - ux * hw]] },
              style: { fill: "#111" },
            },
          ],
        };
      },
    });

    // height contour labels
    series.push({
      type: "custom", coordinateSystem: "cartesian2d", xAxisIndex: i, yAxisIndex: i, clip: true, silent: true, z: 4,
      data: p.labels.map((l) => [l[1], l[2]]),
      renderItem: (params: any, api: any) => {
        const c = api.coord([api.value(0), api.value(1)]);
        return {
          type: "text", x: c[0], y: c[1],
          style: {
            text: p.labels[params.dataIndex][0], fill: "#222", fontSize: 10, fontFamily: "DejaVu Sans",
            align: "center", verticalAlign: "middle", backgroundColor: "#fff", padding: [0, 1],
          },
        };
      },
    });

    // panel frame + title box
    graphic.push({ type: "rect", z: 100, shape: { x: left, y: top, width, height: rowHeight }, style: { fill: "none", stroke: "#222", lineWidth: 1.5 } });
    graphic.push({ type: "rect", z: 101, shape: { x: left + 5, y: top + 7, width: 67, height: 35 }, style: { fill: "#fff", stroke: "#666", lineWidth: 1 } });
    graphic.push({
      type: "text", z: 102, x: left + 38.5, y: top + 25,
      style: { text: p.name, fill: "#222", fontSize: 25, fontFamily: "DejaVu Sans", align: "center", verticalAlign: "middle" },
    });
  });

  // colour legend
  graphic.push({ type: "rect", z: 100, shape: { x: 724, y: 5, width: 90, height: 341 }, style: { fill: "#fff", stroke: "#555", lineWidth: 1 } });
  const boxH = 301 / legendColors.length;
  legendColors.forEach((c, k) => {
    graphic.push({
      type: "rect", z: 101, shape: { x: 736, y: 30 + k * boxH, width: 31, height: boxH },
      style: { fill: c, stroke: "#222", lineWidth: 1 },
    });
  });
  legendLabels.forEach((t, k) => {
    graphic.push({
      type: "text", z: 102, x: 773, y: 45 + k * 30,
      style: { text: t, fill: "#333", fontSize: 16, fontFamily: "DejaVu Sans", align: "left", verticalAlign: "middle" },
    });
  });

  // reference vector
  graphic.push({ type: "line", z: 100, shape: { x1: 663, y1: 295, x2: 684, y2: 295 }, style: { stroke: "#222", lineWidth: 1.3 } });
  graphic.push({ type: "polygon", z: 100, shape: { points: [[689, 295], [682, 292], [684, 295], [682, 298]] }, style: { fill: "#222" } });
  graphic.push({
    type: "text", z: 100, x: 665, y: 316,
    style: { text: "10  m/s", fill: "#222", fontSize: 16.5, fontFamily: "DejaVu Sans Mono", align: "center", verticalAlign: "middle" },
  });

  return { animation: false, backgroundColor: "#fff", grid, xAxis, yAxis, series, graphic };
}

export default function App() {
  const ref = useRef<HTMLDivElement>(null);
  useEffect(() => {
    document.body.style.margin = "0";
    const chart = echarts.init(ref.current!, undefined, { renderer: "svg" });
    chart.setOption(buildOption());
    return () => chart.dispose();
  }, []);
  return <div ref={ref} style={{ width: 794, height: 812, overflow: "hidden", filter: "blur(0.45px)" }} />;
}
